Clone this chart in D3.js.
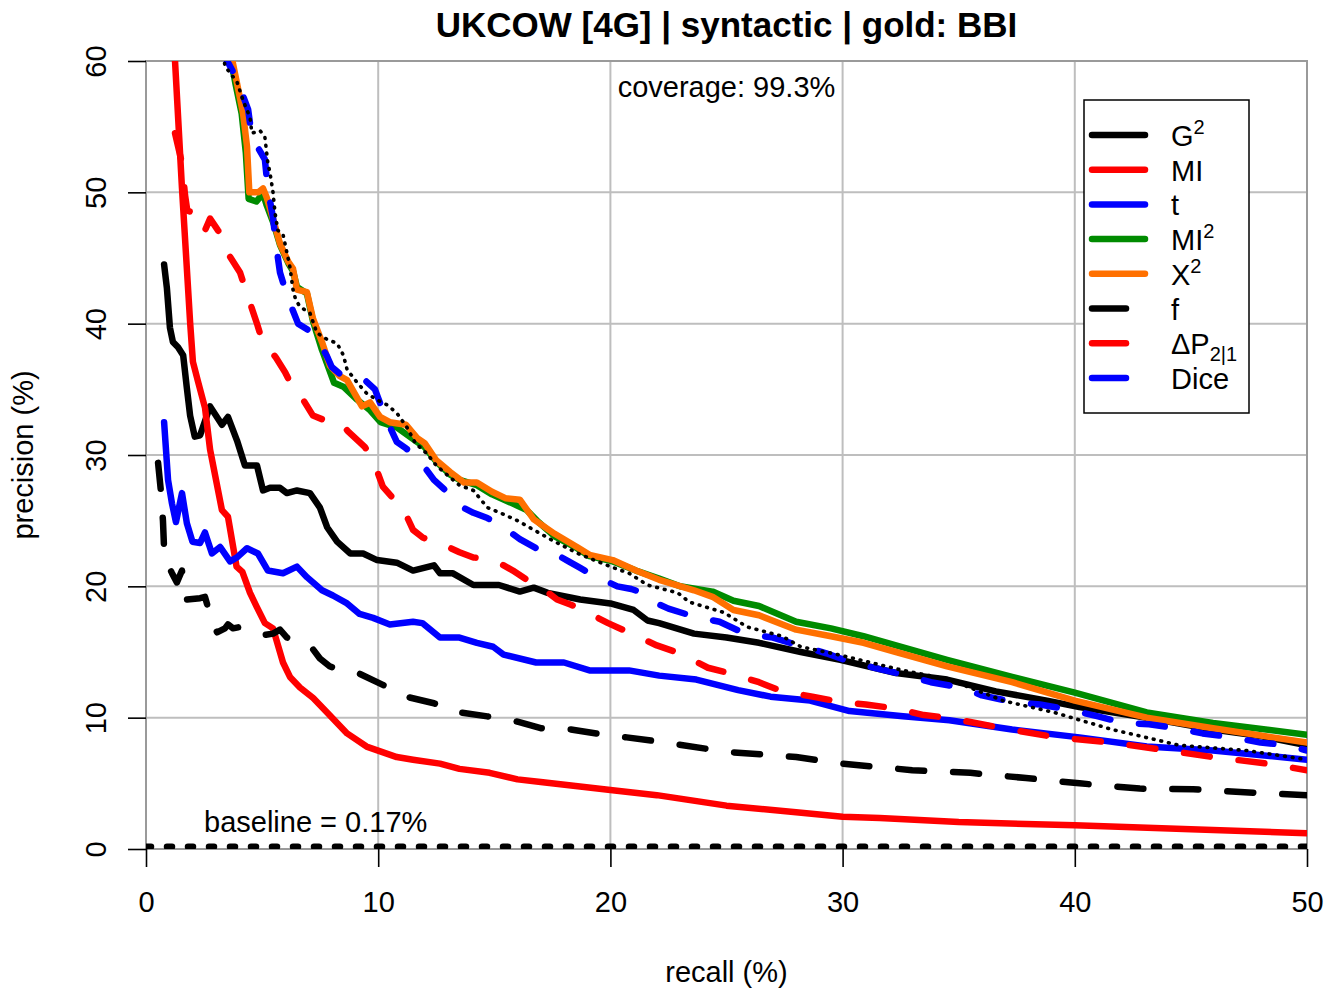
<!DOCTYPE html>
<html><head><meta charset="utf-8">
<script src="https://cdn.jsdelivr.net/npm/d3@7"></script>
<style>
body{margin:0;background:#fff}
svg{display:block}
text{font-family:"Liberation Sans",Arial,Helvetica,sans-serif;fill:#000}
</style>
</head><body>
<svg id="chart" width="1324" height="988"></svg>
<script>
// ---------------- data ----------------
const titleText = "UKCOW [4G] | syntactic | gold: BBI";
const xTicks = [0, 10, 20, 30, 40, 50];
const yTicks = [0, 10, 20, 30, 40, 50, 60];
const baselineValue = 0.17;
const coverageLabel = "coverage: 99.3%";
const baselineLabel = "baseline = 0.17%";

// [recall %, precision %]
const g2 = [[0.78,44.5],[0.9,42.7],[1.03,39.7],[1.16,38.6],[1.38,38.2],[1.6,37.6],[1.76,35.1],[1.9,33.0],[2.1,31.4],[2.33,31.5],[2.76,33.7],[3.27,32.3],[3.53,32.9],[3.92,31.1],[4.26,29.2],[4.78,29.2],[5.04,27.3],[5.34,27.5],[5.77,27.5],[6.07,27.1],[6.5,27.3],[7.06,27.1],[7.49,26.0],[7.8,24.5],[8.23,23.4],[8.8,22.5],[9.35,22.5],[9.95,22.0],[10.8,21.8],[11.5,21.2],[12.4,21.6],[12.66,21.0],[13.2,21.0],[14.1,20.1],[15.2,20.1],[16.1,19.6],[16.7,19.9],[17.3,19.5],[18.7,19.0],[20.0,18.7],[21.0,18.2],[21.6,17.4],[22.1,17.2],[23.6,16.4],[25.0,16.1],[26.4,15.7],[28.2,15.0],[29.9,14.4],[32.3,13.4],[34.5,12.9],[36.6,12.0],[38.8,11.3],[40.2,10.8],[43.1,10.0],[45.95,9.1],[48.0,8.6],[50,7.9]];
const mi = [[1.1,66],[1.25,60],[1.55,50.3],[1.9,40.1],[2.02,37.1],[2.24,35.6],[2.54,33.6],[2.76,30.4],[3.27,25.8],[3.53,25.3],[3.9,21.5],[4.15,21.1],[4.48,19.5],[4.78,18.4],[5.12,17.2],[5.47,16.8],[5.9,14.2],[6.2,13.1],[6.63,12.3],[7.2,11.5],[7.8,10.4],[8.66,8.8],[9.5,7.8],[10.8,7.0],[11.5,6.8],[12.66,6.5],[13.5,6.1],[14.8,5.8],[16.0,5.3],[17.0,5.1],[18.5,4.8],[20,4.5],[22,4.1],[25,3.3],[28,2.8],[30,2.45],[31.6,2.36],[35,2.05],[40,1.8],[45,1.5],[50,1.2]];
const tScore = [[0.78,32.5],[0.95,28.1],[1.12,26.3],[1.29,24.9],[1.55,27.1],[1.76,24.8],[2.0,23.4],[2.33,23.3],[2.54,24.1],[2.84,22.5],[3.19,23.0],[3.62,21.9],[3.92,22.2],[4.35,22.9],[4.82,22.5],[5.25,21.2],[5.9,21.0],[6.5,21.5],[6.93,20.7],[7.58,19.7],[8.05,19.3],[8.66,18.7],[9.2,17.9],[9.78,17.6],[10.5,17.1],[11.5,17.3],[11.9,17.2],[12.66,16.1],[13.5,16.1],[14.25,15.7],[14.95,15.4],[15.4,14.8],[16.8,14.2],[18.0,14.2],[19.1,13.6],[20.8,13.6],[22.1,13.2],[23.7,12.9],[25.5,12.1],[26.9,11.6],[28.6,11.3],[30.3,10.5],[32.6,10.1],[34.6,9.8],[37.3,9.1],[40.2,8.5],[43.1,7.8],[45.95,7.5],[50,6.8]];
const mi2 = [[3.5,61.5],[3.85,58.3],[4.12,56.0],[4.3,53.0],[4.42,49.5],[4.75,49.3],[5.04,49.9],[5.2,49.0],[5.5,47.6],[5.77,46.0],[6.13,44.6],[6.33,44.0],[6.5,42.8],[6.93,42.3],[7.19,40.2],[7.58,38.0],[8.1,35.5],[8.5,35.2],[9.1,34.2],[9.65,33.4],[10.1,32.5],[10.8,32.1],[11.67,31.0],[12.0,30.6],[12.5,29.5],[13.1,28.5],[13.5,28.1],[14.25,27.7],[14.9,27.0],[15.8,26.3],[16.4,25.8],[16.9,24.9],[17.6,23.8],[18.56,22.9],[19.1,22.3],[20.1,21.9],[21.1,21.2],[22.1,20.6],[23.0,20.0],[24.4,19.6],[25.3,18.9],[26.4,18.5],[28.0,17.3],[29.5,16.8],[30.9,16.2],[32.3,15.5],[34.5,14.4],[37.3,13.1],[40.0,11.9],[43.1,10.4],[45.95,9.6],[50,8.7]];
const x2 = [[3.55,61.5],[3.92,58.3],[4.18,56.0],[4.35,53.5],[4.45,50.0],[4.84,50.0],[5.04,50.3],[5.2,49.6],[5.5,47.8],[5.77,46.1],[6.13,44.7],[6.33,44.2],[6.5,42.6],[6.93,42.4],[7.19,40.4],[7.58,38.6],[7.92,36.8],[8.35,36.0],[8.66,35.7],[9.3,33.7],[9.65,34.0],[10.08,32.9],[10.5,32.5],[11.2,32.3],[11.67,31.3],[12.0,30.9],[12.5,29.6],[13.1,28.7],[13.7,27.9],[14.25,27.9],[14.9,27.2],[15.5,26.7],[16.1,26.6],[16.7,25.1],[17.6,24.0],[18.56,23.0],[19.1,22.4],[20.1,22.0],[21.1,21.2],[22.1,20.5],[23.6,19.7],[24.4,19.2],[25.3,18.2],[26.4,17.8],[28.0,16.7],[29.5,16.2],[30.9,15.7],[32.3,15.0],[34.5,13.9],[37.3,12.7],[40.0,11.3],[43.1,10.0],[45.95,9.2],[50,8.1]];
const fScore = [[0.52,29.4],[0.65,27.1],[0.73,25.0],[0.78,22.8],[0.9,21.8],[1.12,21.0],[1.33,20.3],[1.55,21.2],[1.65,19.5],[1.76,19.0],[2.33,19.1],[2.54,19.2],[2.67,18.4],[2.85,17.4],[3.06,16.5],[3.4,16.8],[3.53,17.1],[3.75,16.8],[4.05,16.9],[4.6,16.6],[5.12,16.3],[5.47,16.4],[5.77,16.7],[6.07,16.1],[6.6,15.7],[7.15,15.3],[7.49,14.5],[7.92,13.9],[8.5,13.6],[9.13,13.4],[10.2,12.5],[11.2,11.6],[12.4,11.1],[13.5,10.4],[14.7,10.1],[16.0,9.7],[17.0,9.2],[18.3,9.1],[19.4,8.8],[20.7,8.5],[22,8.2],[25,7.4],[28,7.0],[30,6.5],[33.0,6.0],[35.5,5.8],[37.9,5.4],[40.2,5.0],[42.8,4.6],[45.1,4.55],[47.5,4.3],[50,4.1]];
const deltaP = [[1.25,54.5],[1.55,52.2],[1.68,49.8],[1.78,48.6],[2.33,48.3],[2.54,47.1],[2.76,48.0],[3.1,47.1],[3.32,46.6],[3.62,45.1],[4.05,43.9],[4.4,42.0],[4.78,40.0],[5.04,38.5],[5.34,38.0],[5.6,37.4],[5.99,36.3],[6.33,35.1],[6.63,34.6],[7.19,33.0],[7.62,32.7],[8.35,32.5],[8.7,31.8],[9.13,31.1],[9.43,30.6],[9.78,29.6],[10.2,27.6],[10.64,26.7],[11.0,26.2],[11.5,24.3],[11.93,23.7],[12.5,23.4],[13.5,22.6],[14.1,22.2],[14.7,22.1],[15.3,21.7],[15.8,21.2],[16.4,20.5],[16.75,20.3],[17.7,19.0],[18.3,18.6],[18.8,18.2],[19.9,17.2],[20.9,16.4],[22.0,15.5],[23.0,14.9],[24.2,13.8],[25.3,13.3],[26.4,12.7],[27.4,12.0],[28.7,11.6],[29.9,11.2],[31.0,11.0],[32.3,10.7],[33.5,10.2],[34.5,10.0],[36.9,9.2],[39.2,8.5],[41.6,8.1],[44.0,7.5],[45.95,7.0],[48.3,6.5],[50,6.0]];
const dice = [[3.2,61],[3.5,60],[3.92,58.6],[4.4,56.3],[4.56,54.2],[5.12,52.5],[5.25,50.2],[5.47,48.1],[5.6,46.0],[5.77,43.9],[6.1,42.0],[6.55,40.0],[7.0,39.5],[7.4,38.8],[7.8,37.5],[8.0,36.7],[8.4,36.1],[8.85,35.9],[9.43,35.7],[9.86,35.0],[10.3,32.9],[10.8,31.0],[11.2,30.5],[11.7,29.8],[12.4,28.1],[12.9,27.3],[13.3,26.8],[13.65,26.0],[14.1,25.6],[14.7,25.2],[15.25,24.7],[15.7,24.1],[16.1,23.6],[16.7,23.0],[17.2,22.5],[17.7,22.4],[18.2,21.9],[18.7,21.4],[19.2,20.9],[20.3,20.0],[20.9,19.8],[21.4,19.5],[22.0,18.7],[22.5,18.3],[23.6,17.7],[24.7,17.3],[25.8,16.4],[27.0,16.1],[28.1,15.5],[29.3,14.9],[30.4,14.2],[31.6,13.7],[32.8,13.2],[33.8,12.7],[35.1,12.3],[36.0,11.7],[37.3,11.2],[38.5,11.0],[39.8,10.6],[41.0,10.1],[42.1,9.6],[43.2,9.5],[44.4,9.2],[45.5,8.8],[46.8,8.5],[48.0,8.1],[49.2,7.9],[50,7.5]];
const dottedRef = [[3.3,61],[3.4,59.6],[3.92,58.4],[4.18,57.0],[4.48,55.7],[4.56,54.5],[4.91,54.7],[5.12,54.2],[5.25,52.2],[5.34,51.5],[5.47,50.0],[5.56,48.4],[5.68,47.1],[5.9,46.8],[6.07,45.4],[6.2,44.3],[6.33,42.6],[6.45,41.8],[6.63,41.3],[7.06,40.8],[7.36,39.3],[7.8,38.8],[8.23,38.5],[8.5,37.6],[8.66,36.5],[9.1,35.5],[9.5,34.7],[9.95,34.2],[10.4,33.8],[10.8,33.2],[11.24,32.1],[11.6,30.9],[12.1,30.1],[12.5,29.2],[12.96,28.5],[13.5,27.7],[14.1,27.3],[14.7,26.0],[15.25,25.6],[16.0,25.0],[16.7,24.3],[17.5,23.5],[18.6,22.5],[20.0,21.5],[20.8,21.0],[21.6,20.1],[22.9,19.5],[23.4,18.8],[24.9,18.0],[25.9,16.9],[27.4,16.2],[28.2,15.4],[29.8,14.8],[31.2,14.2],[32.6,13.6],[34.6,12.9],[36.9,11.3],[39.1,10.4],[41.6,9.1],[44.5,7.9],[47.4,7.5],[50,6.8]];

const seriesNames = ["G2","MI","t","MI2","X2","f","dP","Dice"];
const seriesData = [g2, mi, tScore, mi2, x2, fScore, deltaP, dice];
const seriesColors = ["#000000","#ff0000","#0000ff","#008b00","#ff7000","#000000","#ff0000","#0000ff"];
const seriesDashed = [false,false,false,false,false,true,true,true];

// ---------------- drawing ----------------
const svg = d3.select("#chart");
const L = 146, R = 1307, T = 61, B = 849;
const x = d3.scaleLinear().domain([0, 50]).range([L, R]);
const y = d3.scaleLinear().domain([0, 60]).range([B, T]);

svg.append("rect").attr("width",1324).attr("height",988).attr("fill","#fff");

// grid
const grid = svg.append("g");
grid.selectAll("line.gx").data(xTicks).enter().append("line")
  .attr("x1", d => x(d)).attr("x2", d => x(d)).attr("y1", T).attr("y2", B)
  .attr("stroke", "#bebebe").attr("stroke-width", 2);
grid.selectAll("line.gy").data(yTicks).enter().append("line")
  .attr("x1", L).attr("x2", R).attr("y1", d => y(d)).attr("y2", d => y(d))
  .attr("stroke", "#bebebe").attr("stroke-width", 2);
svg.append("rect").attr("x", L).attr("y", T).attr("width", R - L).attr("height", B - T)
  .attr("fill", "none").attr("stroke", "#9a9a9a").attr("stroke-width", 2);

// axes
const xAxis = svg.append("g").attr("transform", `translate(0,${B})`)
  .call(d3.axisBottom(x).tickValues(xTicks).tickSize(18).tickSizeOuter(0).tickFormat(d3.format("d")));
xAxis.select(".domain").remove();
xAxis.selectAll(".tick line").attr("stroke", "#000").attr("stroke-width", 1.6);
xAxis.selectAll(".tick text").attr("y", 63).attr("dy", null)
  .style("font-size", "29px").style("font-family", '"Liberation Sans",Arial,sans-serif').attr("fill","#000");

const yAxis = svg.append("g").attr("transform", `translate(${L},0)`)
  .call(d3.axisLeft(y).tickValues(yTicks).tickSize(18).tickSizeOuter(0).tickFormat(d3.format("d")));
yAxis.select(".domain").remove();
yAxis.selectAll(".tick line").attr("stroke", "#000").attr("stroke-width", 1.6);
yAxis.selectAll(".tick text").attr("x", null).attr("dy", null)
  .attr("transform", "translate(-40,0) rotate(-90)").attr("text-anchor", "middle")
  .style("font-size", "29px").style("font-family", '"Liberation Sans",Arial,sans-serif').attr("fill","#000");

// clip
svg.append("clipPath").attr("id", "plotclip").append("rect")
  .attr("x", L).attr("y", T).attr("width", R - L).attr("height", B - T);
const plot = svg.append("g").attr("clip-path", "url(#plotclip)");

const line = d3.line().x(d => x(d[0])).y(d => y(d[1]));

seriesData.forEach((data, i) => {
  plot.append("path").datum(data).attr("d", line)
    .attr("fill", "none").attr("stroke", seriesColors[i]).attr("stroke-width", 6.5)
    .attr("stroke-linecap", "round").attr("stroke-linejoin", "round")
    .attr("stroke-dasharray", seriesDashed[i] ? "26,29" : null);
});
// thin dotted reference curve
plot.append("path").datum(dottedRef).attr("d", line)
  .attr("fill", "none").attr("stroke", "#000").attr("stroke-width", 3.6)
  .attr("stroke-linecap", "round").attr("stroke-linejoin", "round").attr("stroke-dasharray", "0.8,7");
// baseline
plot.append("path").datum([[0, baselineValue], [50, baselineValue]]).attr("d", line)
  .attr("fill", "none").attr("stroke", "#000").attr("stroke-width", 6.5)
  .attr("stroke-linecap", "round").attr("stroke-dasharray", "5,16");

// texts
svg.append("text").attr("x", (L + R) / 2).attr("y", 37).attr("text-anchor", "middle")
  .style("font-size", "35px").style("font-weight", "bold").text(titleText);
svg.append("text").attr("x", (L + R) / 2).attr("y", 982).attr("text-anchor", "middle")
  .style("font-size", "29px").text("recall (%)");
svg.append("text").attr("transform", `translate(33,${(T + B) / 2}) rotate(-90)`).attr("text-anchor", "middle")
  .style("font-size", "29px").text("precision (%)");
svg.append("text").attr("x", (L + R) / 2).attr("y", 97).attr("text-anchor", "middle")
  .style("font-size", "29px").text(coverageLabel);
svg.append("text").attr("x", 204).attr("y", 832)
  .style("font-size", "29px").text(baselineLabel);

// legend
const lg = svg.append("g");
lg.append("rect").attr("x", 1084).attr("y", 100).attr("width", 165).attr("height", 313)
  .attr("fill", "#fff").attr("stroke", "#000").attr("stroke-width", 1.5);
const legendLabels = [
  {base: "G", sup: "2"}, {base: "MI"}, {base: "t"}, {base: "MI", sup: "2"},
  {base: "X", sup: "2"}, {base: "f"}, {base: "\u0394P", sub: "2|1"}, {base: "Dice"}
];
legendLabels.forEach((lab, i) => {
  const cy = 135 + i * 34.7;
  lg.append("line").attr("x1", 1092).attr("x2", seriesDashed[i] ? 1126 : 1145)
    .attr("y1", cy).attr("y2", cy)
    .attr("stroke", seriesColors[i]).attr("stroke-width", 6.5).attr("stroke-linecap", "round")
    .attr("stroke-dasharray", seriesDashed[i] ? "34,100" : null);
  const t = lg.append("text").attr("x", 1171).attr("y", cy + 11).style("font-size", "29px");
  t.append("tspan").text(lab.base);
  if (lab.sup) t.append("tspan").attr("dy", -12).style("font-size", "20px").text(lab.sup);
  if (lab.sub) t.append("tspan").attr("dy", 7).style("font-size", "20px").text(lab.sub);
});
</script>
</body></html>
